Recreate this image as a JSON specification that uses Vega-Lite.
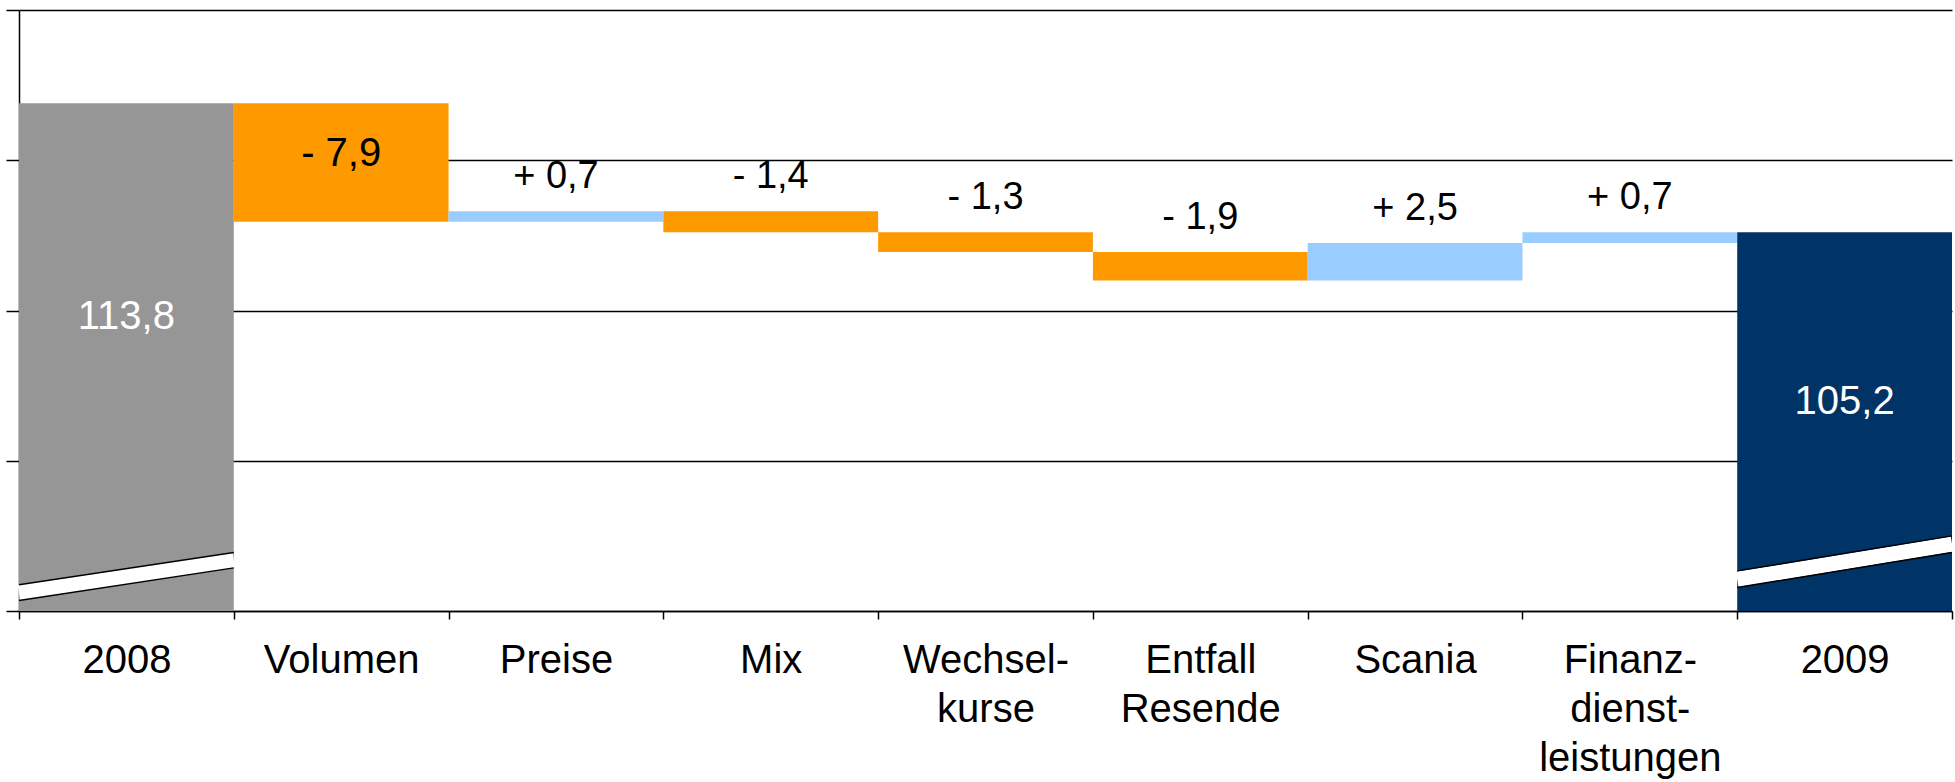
{
  "$schema": "https://vega.github.io/schema/vega-lite/v6.json",
  "width": 1933,
  "height": 601,
  "autosize": {"type": "none"},
  "padding": {"left": 19, "top": 10, "right": 3, "bottom": 171},
  "background": "white",
  "config": {"view": {"stroke": null}, "font": "Liberation Sans", "axis": {"labelFont": "Liberation Sans"}},
  "datasets": {
    "bars": [
      {"cat": "2008", "lo": 80, "hi": 113.8, "kind": "t08", "label": "113,8"},
      {"cat": "Volumen", "lo": 105.9, "hi": 113.8, "kind": "neg", "label": "- 7,9"},
      {"cat": "Preise", "lo": 105.9, "hi": 106.6, "kind": "pos", "label": "+ 0,7"},
      {"cat": "Mix", "lo": 105.2, "hi": 106.6, "kind": "neg", "label": "- 1,4"},
      {"cat": "Wechsel-\nkurse", "lo": 103.9, "hi": 105.2, "kind": "neg", "label": "- 1,3"},
      {"cat": "Entfall\nResende", "lo": 102.0, "hi": 103.9, "kind": "neg", "label": "- 1,9"},
      {"cat": "Scania", "lo": 102.0, "hi": 104.5, "kind": "pos", "label": "+ 2,5"},
      {"cat": "Finanz-\ndienst-\nleistungen", "lo": 104.5, "hi": 105.2, "kind": "pos", "label": "+ 0,7"},
      {"cat": "2009", "lo": 80, "hi": 105.2, "kind": "t09", "label": "105,2"}
    ],
    "gap": [
      {"cat": "2008", "a": 81.22, "b": 83.39},
      {"cat": "2009", "a": 82.1, "b": 84.45}
    ],
    "edges": [
      {"cat": "2008", "a": 81.74, "b": 83.9},
      {"cat": "2008", "a": 80.7, "b": 82.87},
      {"cat": "2009", "a": 82.67, "b": 85.0},
      {"cat": "2009", "a": 81.56, "b": 83.89}
    ]
  },
  "layer": [
    {
      "data": {"name": "bars"},
      "mark": {"type": "bar"},
      "encoding": {
        "x": {
          "field": "cat", "type": "nominal", "sort": null,
          "scale": {"domain": ["2008", "Volumen", "Preise", "Mix", "Wechsel-\nkurse", "Entfall\nResende", "Scania", "Finanz-\ndienst-\nleistungen", "2009"], "paddingInner": 0, "paddingOuter": 0},
          "axis": {
            "title": null, "labelAngle": 0, "tickBand": "extent",
            "labelExpr": "isString(datum.value) ? split(datum.value, '\\n') : ''",
            "labelFontSize": 40, "labelLineHeight": 49, "labelColor": "black",
            "labelPadding": 21, "labelAlign": "center", "labelLimit": 0, "labelOverlap": false,
            "domainColor": "black", "domainWidth": 1.5,
            "tickColor": "black", "tickSize": 8, "tickWidth": 1.5,
            "grid": false
          }
        },
        "y": {
          "field": "lo", "type": "quantitative",
          "scale": {"domain": [80, 120], "nice": false, "zero": false},
          "axis": {
            "title": null, "labels": false, "values": [80, 90, 100, 110, 120],
            "grid": true, "gridColor": "black", "gridWidth": 1.5, "gridOpacity": 1,
            "domainColor": "black", "domainWidth": 1.5,
            "tickColor": "black", "tickSize": 13, "tickWidth": 1.5
          }
        },
        "y2": {"field": "hi"},
        "color": {
          "field": "kind", "type": "nominal", "legend": null,
          "scale": {"domain": ["t08", "neg", "pos", "t09"], "range": ["#969696", "#FF9900", "#99CCFF", "#003366"]}
        }
      }
    },
    {
      "data": {"name": "gap"},
      "mark": {"type": "rule", "color": "white", "strokeWidth": 15.5, "strokeCap": "butt"},
      "encoding": {
        "x": {"field": "cat", "type": "nominal", "bandPosition": 0},
        "x2": {"field": "cat", "bandPosition": 1},
        "y": {"field": "a", "type": "quantitative"},
        "y2": {"field": "b"}
      }
    },
    {
      "data": {"name": "edges"},
      "mark": {"type": "rule", "color": "black", "strokeWidth": 1.5, "strokeCap": "butt"},
      "encoding": {
        "x": {"field": "cat", "type": "nominal", "bandPosition": 0},
        "x2": {"field": "cat", "bandPosition": 1},
        "y": {"field": "a", "type": "quantitative"},
        "y2": {"field": "b"}
      }
    },
    {
      "data": {"name": "bars"},
      "transform": [{"filter": "(datum.kind === 'pos' || datum.kind === 'neg') && datum.cat !== 'Volumen'"}],
      "mark": {"type": "text", "fontSize": 38, "color": "black", "baseline": "alphabetic", "dy": -23},
      "encoding": {
        "x": {"field": "cat", "type": "nominal"},
        "y": {"field": "hi", "type": "quantitative"},
        "text": {"field": "label"}
      }
    },
    {
      "data": {"name": "bars"},
      "transform": [{"filter": "datum.cat === 'Volumen'"}],
      "mark": {"type": "text", "fontSize": 40, "color": "black", "baseline": "alphabetic", "dy": 63},
      "encoding": {
        "x": {"field": "cat", "type": "nominal"},
        "y": {"field": "hi", "type": "quantitative"},
        "text": {"field": "label"}
      }
    },
    {
      "data": {"name": "bars"},
      "transform": [{"filter": "datum.cat === '2008'"}],
      "mark": {"type": "text", "fontSize": 40, "color": "white", "baseline": "alphabetic", "dy": 226},
      "encoding": {
        "x": {"field": "cat", "type": "nominal"},
        "y": {"field": "hi", "type": "quantitative"},
        "text": {"field": "label"}
      }
    },
    {
      "data": {"name": "bars"},
      "transform": [{"filter": "datum.cat === '2009'"}],
      "mark": {"type": "text", "fontSize": 40, "color": "white", "baseline": "alphabetic", "dy": 182},
      "encoding": {
        "x": {"field": "cat", "type": "nominal"},
        "y": {"field": "hi", "type": "quantitative"},
        "text": {"field": "label"}
      }
    }
  ]
}
